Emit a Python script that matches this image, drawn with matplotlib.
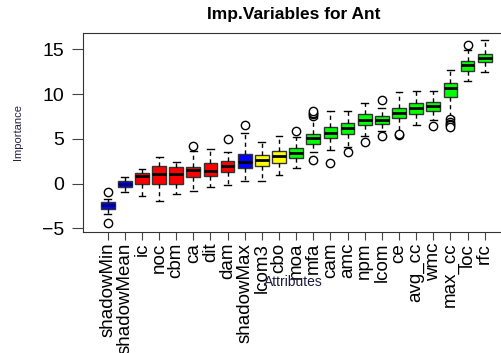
import matplotlib
matplotlib.use("Agg")
import matplotlib.pyplot as plt

plt.rcParams['font.family'] = ['Liberation Sans', 'DejaVu Sans']

# attribute names, in plotted order
attributes = ["shadowMin", "shadowMean", "ic", "noc", "cbm", "ca", "dit", "dam",
              "shadowMax", "lcom3", "cbo", "moa", "mfa", "cam", "amc", "npm",
              "lcom", "ce", "avg_cc", "wmc", "max_cc", "loc", "rfc"]

# box statistics
whislo = [-3.35, -0.95, -1.38, -1.93, -1.19, -0.86, -0.41, -0.15, 0.33, 0.33, 0.98,
          1.71, 3.57, 3.75, 4.13, 5.32, 5.9, 5.61, 6.54, 7.1, 7.4, 11.45, 12.49]
q1 = [-2.8, -0.35, 0.0, 0.0, 0.0, 0.74, 0.86, 1.26, 1.71, 1.93, 2.36,
      2.83, 4.46, 5.06, 5.58, 6.54, 6.65, 7.29, 7.84, 8.14, 9.7, 12.57, 13.6]
med = [-2.38, -0.07, 0.86, 1.08, 1.08, 1.49, 1.38, 1.93, 2.42, 2.6, 3.1,
       3.46, 5.06, 5.69, 6.17, 7.14, 7.1, 7.92, 8.48, 8.66, 10.7, 13.23, 14.09]
q3 = [-2.0, 0.25, 1.23, 1.97, 1.86, 1.9, 2.27, 2.57, 3.35, 3.2, 3.7,
      4.01, 5.58, 6.32, 6.77, 7.73, 7.55, 8.48, 9.03, 9.14, 11.3, 13.75, 14.54]
whishi = [-1.7, 0.78, 1.6, 3.01, 2.38, 3.68, 3.9, 3.57, 5.69, 4.68, 5.32,
          5.17, 7.3, 8.1, 8.1, 8.96, 8.44, 10.22, 10.37, 10.3, 12.68, 14.9, 16.02]
fliers = [[-0.93, -4.4], [], [], [], [], [4.16], [], [5.0], [6.5], [], [],
          [5.87], [7.55, 7.75, 7.95, 8.15, 2.64], [2.34], [3.49], [4.65],
          [9.33, 5.32], [5.39, 5.5], [], [6.39],
          [7.17, 6.9, 6.7, 6.5, 6.3], [15.5], []]

status = ["shadow", "shadow", "rej", "rej", "rej", "rej", "rej", "rej",
          "shadow", "tent", "tent"] + ["conf"] * 12
colours = {"shadow": "#0000FF", "rej": "#FF0000", "tent": "#FFFF00", "conf": "#00FF00"}

stats = []
for i, name in enumerate(attributes):
    stats.append(dict(label=name, whislo=whislo[i], q1=q1[i], med=med[i],
                      q3=q3[i], whishi=whishi[i], fliers=fliers[i]))

fig = plt.figure(figsize=(5.02, 3.53), dpi=100)
ax = fig.add_axes([0.166, 0.3436, 0.848, 0.562])

bp = ax.bxp(stats, positions=range(1, len(stats) + 1), widths=0.8,
            patch_artist=True, capwidths=0.4,
            boxprops=dict(edgecolor="#333333", linewidth=1.0),
            medianprops=dict(color="black", linewidth=2.0),
            whiskerprops=dict(color="black", linestyle=(0, (3, 2.5)), linewidth=1.0),
            capprops=dict(color="black", linewidth=1.0),
            flierprops=dict(marker="o", markerfacecolor="white", markeredgecolor="black",
                            markersize=6, markeredgewidth=1.0))
for box, st in zip(bp["boxes"], status):
    box.set_facecolor(colours[st])
# small shadow boxes: R draws their medians in a dark blue
for k in (0, 1):
    bp["medians"][k].set_color("#000080")

ax.set_xlim(-0.42, 24.42)
ax.set_ylim(-5.37, 16.8)
ax.set_yticks([-5, 0, 5, 10, 15])
ax.tick_params(axis="y", labelsize=14, length=8, pad=6, color="#444444")
ax.tick_params(axis="x", labelsize=13.5, length=6, pad=2, color="#444444")
ax.set_xticks(range(1, len(attributes) + 1))
ax.set_xticklabels(attributes, rotation=90)
for s in ax.spines.values():
    s.set_color("#333333")

fig.text(0.585, 0.96, "Imp.Variables for Ant", ha="center", va="center",
         fontsize=12.5, fontweight="bold")
fig.text(0.036, 0.625, "Importance", rotation=90, ha="center", va="center",
         fontsize=8, color="#222244")
fig.text(0.584, 0.2, "Attributes", ha="center", va="center",
         fontsize=10, color="#1a1a40")

fig.savefig("out.png", dpi=100)
